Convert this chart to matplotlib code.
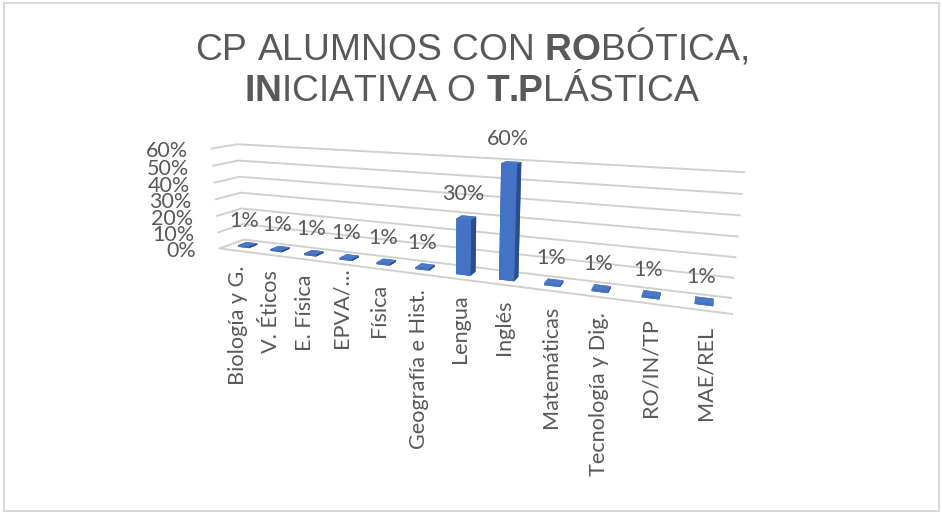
import matplotlib
matplotlib.use('Agg')
import matplotlib.pyplot as plt
from matplotlib.patches import Rectangle
from mpl_toolkits.mplot3d import proj3d

plt.rcParams['font.family'] = ['Lato', 'DejaVu Sans']
plt.rcParams['mathtext.fontset'] = 'custom'
plt.rcParams['mathtext.rm'] = 'Liberation Sans'
plt.rcParams['mathtext.bf'] = 'Liberation Sans:bold'

categorias = ['Biología y G.', 'V. Éticos', 'E. Física', 'EPVA/…', 'Física', 'Geografía e Hist.',
              'Lengua', 'Inglés', 'Matemáticas', 'Tecnología y Dig.', 'RO/IN/TP', 'MAE/REL']
valores = [1, 1, 1, 1, 1, 1, 30, 60, 1, 1, 1, 1]
ticks = [0, 10, 20, 30, 40, 50, 60]

W, H = 942, 512
fig = plt.figure(figsize=(W / 100, H / 100), dpi=100)
# camara ajustada contra la imagen original
ax = fig.add_axes([0.1809, 0.0419, 0.5683, 1.0455], projection='3d')
ax.view_init(12.9652, -67.9098)
ax.set_proj_type('persp', focal_length=0.2283)
ax.set_box_aspect((1, 0.0786, 0.2125))
ax.set_xlim(0, 12, view_margin=0)
ax.set_ylim(0, 1, view_margin=0)
ax.set_zlim(0, 60, view_margin=0)
ax.set_axis_off()
ax.computed_zorder = False


def texto(x, y, z, dx, dy, s, **kw):
    # Text3D no rota, asi que se proyecta el punto y se pone texto 2D (dx, dy en pixeles)
    xp, yp, _ = proj3d.proj_transform(x, y, z, ax.get_proj())
    px, py = ax.transData.transform((xp, yp))
    fig.text((px + dx) / W, (py - dy) / H, s, color='#595959', **kw)


gris = '#d0d0d0'
for v in ticks:
    ax.plot([0, 0, 12], [0, 1, 1], [v, v, v], color=gris, lw=1.4, zorder=1, clip_on=False)
    texto(0, 0, v, -24, 3, f'{v}%', ha='right', va='center', fontsize=15.5)
ax.plot([0, 12], [0, 0], [0, 0], color=gris, lw=1.4, zorder=1, clip_on=False)

colores = ['#2f5597', '#4a78c8', '#4472c4', '#4472c4', '#2f5597', '#2a4d8c']
for i, (c, v) in enumerate(zip(categorias, valores)):
    barra = ax.bar3d(i + 0.33, 0.32, 0, 0.34, 0.36, v, color=colores, shade=False, zorder=2 + i)
    barra.set_clip_on(False)
    texto(i + 0.5, 0.5, v, -3, -23.5, f'{v}%', ha='center', va='center', fontsize=15.5)
    pad = 3 if c.startswith('EPVA') else 15
    texto(i + 0.5, 0, 0, 2, pad, c, rotation=90, ha='center', va='top', fontsize=15.6)

fig.text(472 / W, 1 - 59 / H, r'CP ALUMNOS CON $\mathbf{RO}$BÓTICA,', ha='center', va='baseline',
         fontsize=26.8, color='#595959', family='Liberation Sans')
fig.text(472 / W, 1 - 101 / H, r'$\mathbf{IN}$ICIATIVA O $\mathbf{T.}\hspace{-0.24}\mathbf{P}$LÁSTICA',
         ha='center', va='baseline', fontsize=26.8, color='#595959', family='Liberation Sans')

fig.add_artist(Rectangle((4 / W, 1 - 511 / H), 935 / W, 508 / H, transform=fig.transFigure,
                         fill=False, ec='#d9d9d9', lw=1.5))

fig.savefig('out.png', dpi=100)
